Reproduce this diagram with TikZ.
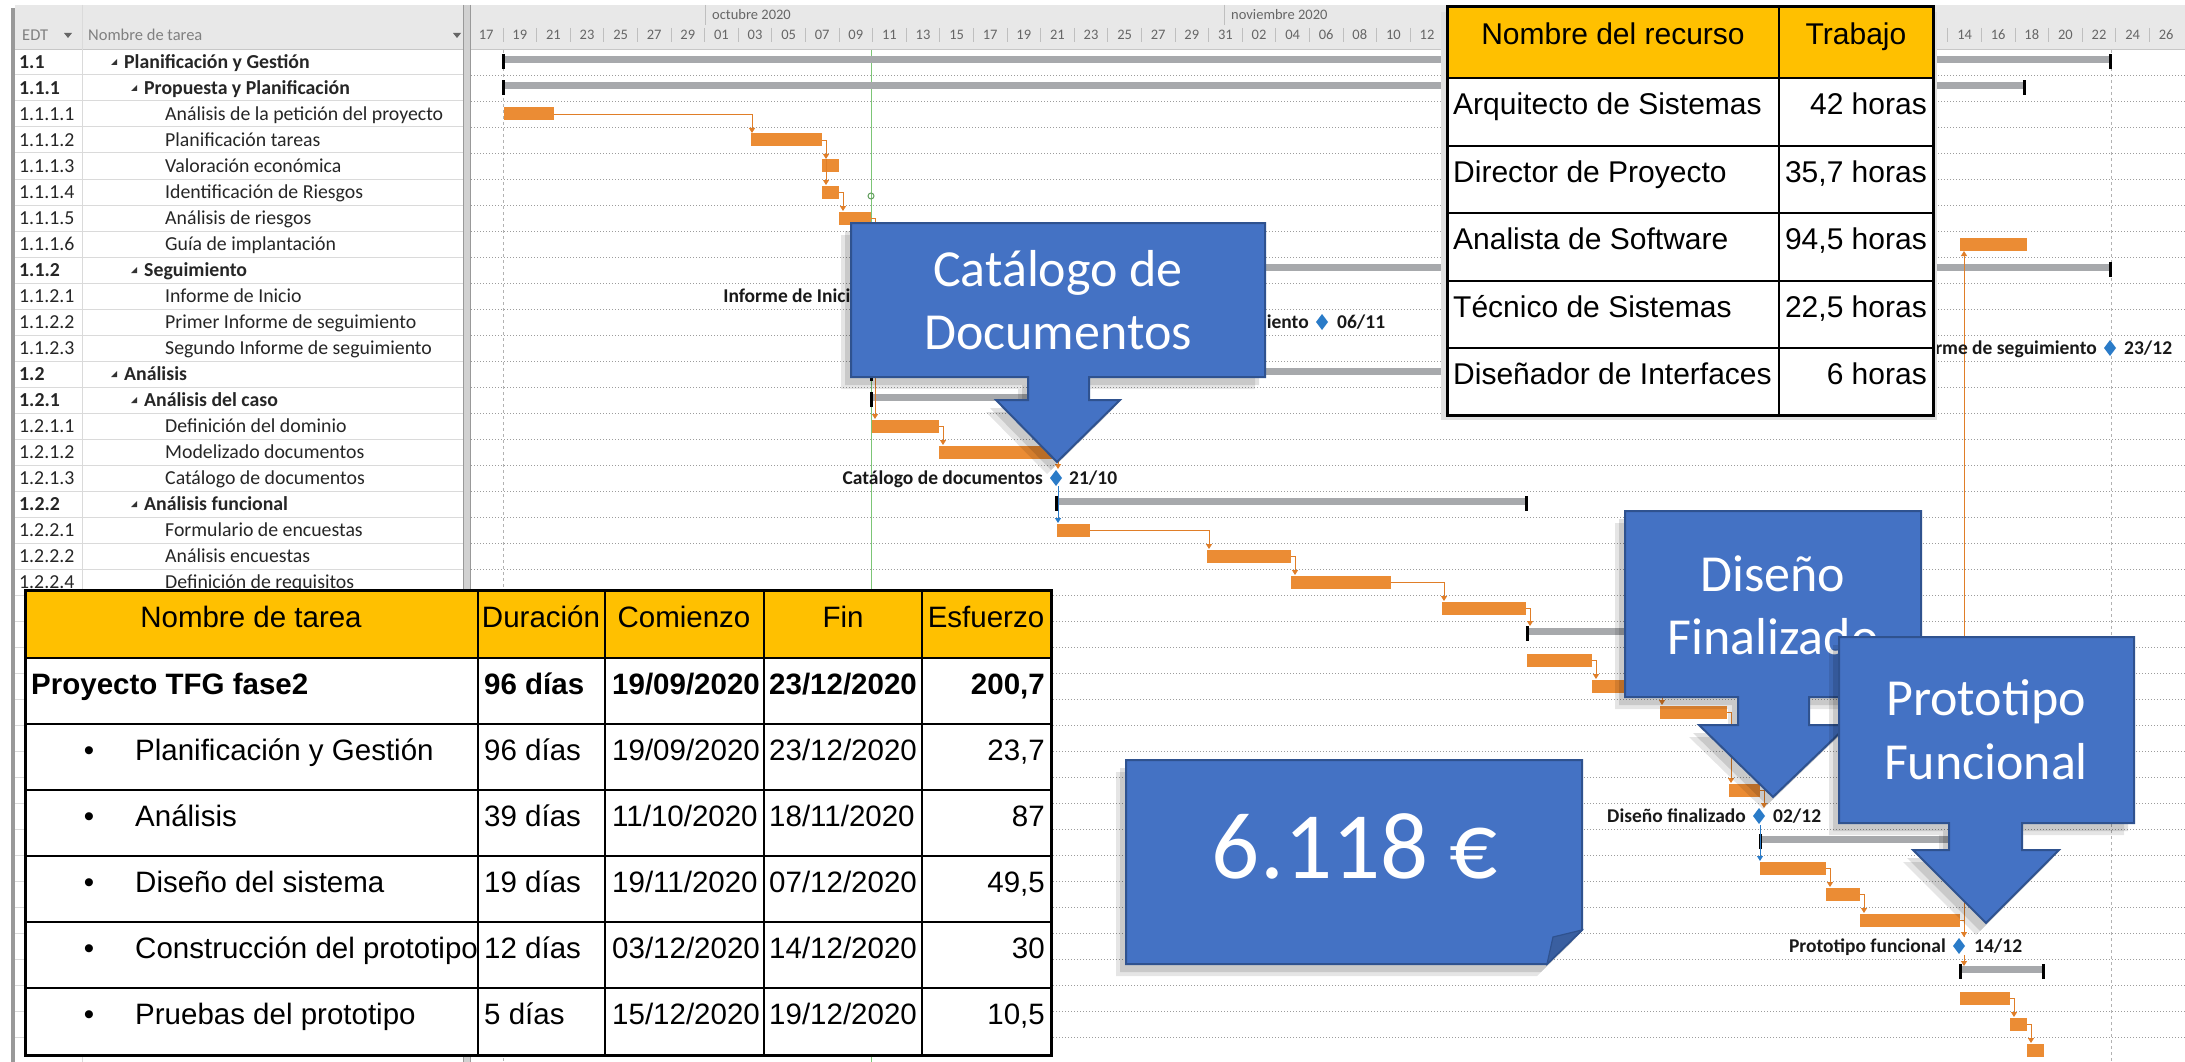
\documentclass[tikz,border=0pt]{standalone}
\usepackage{fontspec}
\setmainfont{Carlito}
\newfontfamily\arifam{Liberation Sans}
\usetikzlibrary{arrows.meta}
\definecolor{bar}{HTML}{EB8C34}
\definecolor{lnk}{HTML}{E07E28}
\definecolor{sumg}{HTML}{A7A9AC}
\definecolor{hdrg}{HTML}{E8E8E8}
\definecolor{gridl}{HTML}{DADADA}
\definecolor{dotc}{HTML}{9C9C9C}
\definecolor{msb}{HTML}{2A7BC8}
\definecolor{gold}{HTML}{FFC000}
\definecolor{cblue}{HTML}{4472C4}
\definecolor{cedge}{HTML}{2F528F}
\definecolor{fold}{HTML}{3A5FA0}
\definecolor{greenl}{HTML}{7CC576}
\begin{document}
\begin{tikzpicture}[x=1pt,y=-1pt,
  gtxt/.style={inner sep=0pt,font=\fontsize{19.8}{23}\selectfont,text=black!85,text height=12.75pt,text depth=0pt},
  tb/.style={font=\fontsize{19.8}{23}\selectfont\bfseries},
  tn/.style={},
  hdr/.style={inner sep=0pt,font=\fontsize{16.5}{19}\selectfont,text=black!50,text height=10.6pt,text depth=0pt},
  dlab/.style={inner sep=0pt,font=\fontsize{14.5}{17}\selectfont,text=black!60,text height=9.3pt,text depth=0pt},
  mlab/.style={inner sep=0pt,font=\fontsize{19.5}{22}\selectfont\bfseries,text=black!90,text height=12.6pt,text depth=0pt},
  ttxt/.style={inner sep=0pt,font=\arifam\fontsize{29.5}{34}\selectfont,text height=21.1pt,text depth=0pt},
  ttb/.style={font=\arifam\fontsize{29.5}{34}\selectfont\bfseries},
  rtxt/.style={inner sep=0pt,font=\arifam\fontsize{30}{34}\selectfont,text height=21.5pt,text depth=0pt},
  ctext/.style={inner sep=0pt,font=\fontsize{52}{60}\selectfont,text=white,text height=33.5pt,text depth=0pt},
  ntext/.style={inner sep=0pt,font=\fontsize{95}{110}\selectfont,text=white,text height=60pt,text depth=0pt},
  lk/.style={draw=lnk,line width=0.9pt,-{Triangle[length=5pt,width=6pt]}},
  bk/.style={draw=msb,line width=0.9pt,-{Triangle[length=5pt,width=6pt]}},
  tline/.style={line width=2.5pt,black},
  blueshape/.style={fill=cblue,draw=cedge,line width=2pt,line join=miter},
]
\useasboundingbox (0,0) rectangle (2185,1062);
\fill[white] (0,0) rectangle (2185,1062);
% ---------- headers ----------
\fill[hdrg] (15,5) rectangle (2185,50);
\draw[black!22,line width=1pt] (15,50) -- (2185,50);
\fill[black!40] (11,8) rectangle (15,1062);
\draw[gridl,line width=1pt] (82,5) -- (82,1062);
\node[hdr,anchor=west] (hedt) at (22,35) {EDT};
\node[hdr,anchor=west] (hname) at (88,35) {Nombre de tarea};
\fill[black!60] (64,33) -- (72,33) -- (68,38) -- cycle;
\fill[black!60] (453,33) -- (461,33) -- (457,38) -- cycle;
% left table grid
\foreach \k in {0,...,38} \draw[gridl,line width=1pt] (15,75+26*\k) -- (463,75+26*\k);
% splitter
\fill[black!18] (463,5) rectangle (470,1062);
\draw[black!40,line width=0.8pt] (463,5) -- (463,1062) (470,5) -- (470,1062);
% month labels
\draw[black!25,line width=0.8pt] (705,5) -- (705,25) (1224,5) -- (1224,25);
\node[dlab,anchor=west] (moct) at (712,15) {octubre 2020};
\node[dlab,anchor=west] (mnov) at (1231,15) {noviembre 2020};
% day ticks & labels
\foreach \o in {0,2,...,98} \draw[black!25,line width=0.8pt] (503+16.8*\o,28) -- (503+16.8*\o,42);
\foreach \o/\t in {-2/17,0/19,2/21,4/23,6/25,8/27,10/29,12/01,14/03,16/05,18/07,20/09,22/11,24/13,26/15,28/17,30/19,32/21,34/23,36/25,38/27,40/29,42/31,44/02,46/04,48/06,50/08,52/10,54/12,86/14,88/16,90/18,92/20,94/22,96/24,98/26}
  \node[dlab] (d\o) at (503+16.8*\o+16.8,35) {\t};
% ---------- task rows ----------
\foreach \k/\e/\nm/\lx/\fw in {
 0/1.1/Planificación y Gestión/124/tb,
 1/1.1.1/Propuesta y Planificación/144/tb,
 2/1.1.1.1/Análisis de la petición del proyecto/165/tn,
 3/1.1.1.2/Planificación tareas/165/tn,
 4/1.1.1.3/Valoración económica/165/tn,
 5/1.1.1.4/Identificación de Riesgos/165/tn,
 6/1.1.1.5/Análisis de riesgos/165/tn,
 7/1.1.1.6/Guía de implantación/165/tn,
 8/1.1.2/Seguimiento/144/tb,
 9/1.1.2.1/Informe de Inicio/165/tn,
 10/1.1.2.2/Primer Informe de seguimiento/165/tn,
 11/1.1.2.3/Segundo Informe de seguimiento/165/tn,
 12/1.2/Análisis/124/tb,
 13/1.2.1/Análisis del caso/144/tb,
 14/1.2.1.1/Definición del dominio/165/tn,
 15/1.2.1.2/Modelizado documentos/165/tn,
 16/1.2.1.3/Catálogo de documentos/165/tn,
 17/1.2.2/Análisis funcional/144/tb,
 18/1.2.2.1/Formulario de encuestas/165/tn,
 19/1.2.2.2/Análisis encuestas/165/tn,
 20/1.2.2.4/Definición de requisitos/165/tn}{
  \node[gtxt,\fw,anchor=west] (e\k) at (19,62+26*\k) {\e};
  \node[gtxt,\fw,anchor=west] (n\k) at (\lx,62+26*\k) {\nm};
}
\foreach \k/\tx in {0/111,1/131,8/131,12/111,13/131,17/131}
  \fill[black!80] (\tx,62+26*\k+3) -- ++(6,0) -- ++(0,-6) -- cycle;
% ---------- chart grid ----------
\foreach \k in {0,...,38} \draw[dotc,line width=0.9pt,dash pattern=on 1pt off 2pt] (471,75+26*\k) -- (2185,75+26*\k);
\draw[black!30,line width=0.8pt,dash pattern=on 3pt off 3pt] (503,50) -- (503,1062) (2111,50) -- (2111,1062);
\draw[greenl,line width=0.9pt] (871,50) -- (871,1062);
\draw[greenl!80!black,line width=1pt] (871,196) circle (3);
% ---------- summary bars ----------
\foreach \k/\a/\b in {0/503/2111,1/503/2025,8/871/2111,12/871/1528,13/871/1056,17/1056/1527,22/1527/1760,30/1760/1960,35/1960/2044}{
  \pgfmathsetmacro\yc{62+26*\k}
  \fill[sumg] (\a,\yc-6) rectangle (\b,\yc+1);
  \fill[black] (\a-1,\yc-8) rectangle (\a+2,\yc+7);
  \fill[black] (\b-2,\yc-8) rectangle (\b+1,\yc+7);
}
% ---------- task bars ----------
\foreach \k/\a/\b in {2/504/554,3/751/822,4/822/839,5/822/839,6/839/871,7/1960/2027,14/872/939,15/939/1053,18/1057/1090,19/1207/1291,20/1291/1391,21/1442/1526,23/1527/1592,24/1592/1656,25/1660/1727,26/1727/1762,28/1729/1760,31/1760/1826,32/1826/1860,33/1860/1960,36/1960/2010,37/2010/2027,38/2027/2044}
  \fill[bar] (\a,62+26*\k-6.5) rectangle (\b,62+26*\k+6.5);
% ---------- links ----------
\draw[lk] (554,114) -| (752,133);
\draw[lk] (822,140) -- (826,140) -- (826,159);
\draw[lk] (826,159) -- (826,185);
\draw[lk] (839,192) -- (843,192) -- (843,211);
\draw[lk] (871,218) -- (875,218) -- (875,419);
\draw[lk] (939,426) -- (943,426) -- (943,445);
\draw[lk] (1053,452) -- (1058,452) -- (1058,469);
\draw[bk] (1058,486) -- (1058,523);
\draw[lk] (1090,530) -| (1209,549);
\draw[lk] (1291,556) -- (1295,556) -- (1295,575);
\draw[lk] (1391,582) -| (1444,601);
\draw[lk] (1526,608) -- (1530,608) -- (1530,626);
\draw[lk] (1592,660) -- (1596,660) -- (1596,679);
\draw[lk] (1656,686) -- (1662,686) -- (1662,705);
\draw[lk] (1727,712) -- (1731,712) -- (1731,731);
\draw[lk] (1731,731) -- (1731,783);
\draw[lk] (1760,790) -- (1764,790) -- (1764,808);
\draw[bk] (1760,825) -- (1760,861);
\draw[lk] (1826,868) -- (1830,868) -- (1830,887);
\draw[lk] (1860,894) -- (1864,894) -- (1864,913);
\draw[lk] (1960,920) -- (1964,920) -- (1964,937);
\draw[lk] (1964,955) -- (1964,966);
\draw[lk] (2010,998) -- (2014,998) -- (2014,1017);
\draw[lk] (2027,1024) -- (2031,1024) -- (2031,1043);
\draw[lk] (1964,937) -- (1964,251);
% ---------- milestones ----------
\fill[msb] (873,288) -- (879,296) -- (873,304) -- (867,296) -- cycle;
\node[mlab,anchor=east] (ms9) at (861,296) {Informe de Inicio};
\foreach \k/\x/\lab in {10/1322/Primer Informe de seguimiento,11/2110/Segundo Informe de seguimiento,16/1056/Catálogo de documentos,29/1759/Diseño finalizado,34/1959/Prototipo funcional}{
  \pgfmathsetmacro\yc{62+26*\k}
  \fill[msb] (\x,\yc-8) -- (\x+6,\yc) -- (\x,\yc+8) -- (\x-6,\yc) -- cycle;
  \node[mlab,anchor=east] (ml\k) at (\x-13,\yc) {\lab};
}
\node[mlab,anchor=west] (md10) at (1337,322) {06/11};
\node[mlab,anchor=west] (md11) at (2124,348) {23/12};
\node[mlab,anchor=west] (md16) at (1069,478) {21/10};
\node[mlab,anchor=west] (md29) at (1773,816) {02/12};
\node[mlab,anchor=west] (md34) at (1974,946) {14/12};
% ---------- resource table ----------
\fill[black!12] (1441,12) rectangle (1937,420);
\fill[white] (1447,7) rectangle (1933,415);
\fill[gold] (1447,7) rectangle (1933,78);
\foreach \yy in {78,146,213,281,348} \draw[tline] (1447,\yy) -- (1933,\yy);
\draw[tline] (1779,7) -- (1779,415);
\draw[line width=3pt] (1447,7) rectangle (1933,415);
\node[rtxt] (rh1) at (1613,34) {Nombre del recurso};
\node[rtxt] (rh2) at (1856,34) {Trabajo};
\node[rtxt,anchor=west] (r1) at (1453,104) {Arquitecto de Sistemas};
\node[rtxt,anchor=west] (r2) at (1453,172) {Director de Proyecto};
\node[rtxt,anchor=west] (r3) at (1453,239) {Analista de Software};
\node[rtxt,anchor=west] (r4) at (1453,307) {Técnico de Sistemas};
\node[rtxt,anchor=west] (r5) at (1453,374) {Diseñador de Interfaces};
\node[rtxt,anchor=east] (w1) at (1927,104) {42 horas};
\node[rtxt,anchor=east] (w2) at (1927,172) {35,7 horas};
\node[rtxt,anchor=east] (w3) at (1927,239) {94,5 horas};
\node[rtxt,anchor=east] (w4) at (1927,307) {22,5 horas};
\node[rtxt,anchor=east] (w5) at (1927,374) {6 horas};
% ---------- task table ----------
\fill[white] (25,590) rectangle (1051,1055);
\fill[gold] (25,590) rectangle (1051,658);
\foreach \yy in {658,724,790,856,922,988} \draw[tline] (25,\yy) -- (1051,\yy);
\foreach \xx in {478,605,764,922} \draw[tline] (\xx,590) -- (\xx,1055);
\draw[line width=3pt] (25,590) rectangle (1051,1055);
\node[ttxt] (th1) at (251,617) {Nombre de tarea};
\node[ttxt] (th2) at (541,617) {Duración};
\node[ttxt] (th3) at (684,617) {Comienzo};
\node[ttxt] (th4) at (843,617) {Fin};
\node[ttxt] (th5) at (986,617) {Esfuerzo};
\node[ttxt,ttb,anchor=west] (a1) at (31,684) {Proyecto TFG fase2};
\node[ttxt,ttb,anchor=west] (a2) at (484,684) {96 días};
\node[ttxt,ttb,anchor=west] (a3) at (612,684) {19/09/2020};
\node[ttxt,ttb,anchor=west] (a4) at (769,684) {23/12/2020};
\node[ttxt,ttb,anchor=east] (a5) at (1045,684) {200,7};
\node[ttxt] (b1) at (89,750) {•};
\node[ttxt,anchor=west] (b2) at (135,750) {Planificación y Gestión};
\node[ttxt,anchor=west] (b3) at (484,750) {96 días};
\node[ttxt,anchor=west] (b4) at (612,750) {19/09/2020};
\node[ttxt,anchor=west] (b5) at (769,750) {23/12/2020};
\node[ttxt,anchor=east] (b6) at (1045,750) {23,7};
\node[ttxt] (c1) at (89,816) {•};
\node[ttxt,anchor=west] (c2) at (135,816) {Análisis};
\node[ttxt,anchor=west] (c3) at (484,816) {39 días};
\node[ttxt,anchor=west] (c4) at (612,816) {11/10/2020};
\node[ttxt,anchor=west] (c5) at (769,816) {18/11/2020};
\node[ttxt,anchor=east] (c6) at (1045,816) {87};
\node[ttxt] (f1) at (89,882) {•};
\node[ttxt,anchor=west] (f2) at (135,882) {Diseño del sistema};
\node[ttxt,anchor=west] (f3) at (484,882) {19 días};
\node[ttxt,anchor=west] (f4) at (612,882) {19/11/2020};
\node[ttxt,anchor=west] (f5) at (769,882) {07/12/2020};
\node[ttxt,anchor=east] (f6) at (1045,882) {49,5};
\node[ttxt] (g1) at (89,948) {•};
\node[ttxt,anchor=west] (g2) at (135,948) {Construcción del prototipo};
\node[ttxt,anchor=west] (g3) at (484,948) {12 días};
\node[ttxt,anchor=west] (g4) at (612,948) {03/12/2020};
\node[ttxt,anchor=west] (g5) at (769,948) {14/12/2020};
\node[ttxt,anchor=east] (g6) at (1045,948) {30};
\node[ttxt] (h1) at (89,1014) {•};
\node[ttxt,anchor=west] (h2) at (135,1014) {Pruebas del prototipo};
\node[ttxt,anchor=west] (h3) at (484,1014) {5 días};
\node[ttxt,anchor=west] (h4) at (612,1014) {15/12/2020};
\node[ttxt,anchor=west] (h5) at (769,1014) {19/12/2020};
\node[ttxt,anchor=east] (h6) at (1045,1014) {10,5};
% ---------- sticky note ----------
\def\notepath{(1126,760) -- (1582,760) -- (1582,930) -- (1547,964) -- (1126,964) -- cycle}
\fill[black,opacity=0.10,shift={(-10,12)}] \notepath;
\fill[black,opacity=0.12,shift={(-6,8)}] \notepath;
\filldraw[blueshape] \notepath;
\filldraw[fill=fold,draw=cedge,line width=1.2pt] (1582,930) -- (1553,937) -- (1547,964) -- cycle;
\node[ntext] (cost) at (1355,848) {6.118 €};
% ---------- callouts ----------
\def\catpath{(851,223) -- (1265,223) -- (1265,377) -- (1089,377) -- (1089,400) -- (1120,400) -- (1057,462) -- (996,400) -- (1028,400) -- (1028,377) -- (851,377) -- cycle}
\def\dispath{(1625,511) -- (1921,511) -- (1921,697) -- (1809,697) -- (1809,725) -- (1848,725) -- (1773,797) -- (1699,725) -- (1738,725) -- (1738,697) -- (1625,697) -- cycle}
\def\propath{(1839,637) -- (2134,637) -- (2134,823) -- (2022,823) -- (2022,850) -- (2059,850) -- (1986,923) -- (1913,850) -- (1949,850) -- (1949,823) -- (1839,823) -- cycle}
\fill[black,opacity=0.10,shift={(-10,12)}] \catpath;
\fill[black,opacity=0.12,shift={(-6,8)}] \catpath;
\filldraw[blueshape] \catpath;
\node[ctext] (cat1) at (1058,270) {Catálogo de};
\node[ctext] (cat2) at (1058,333) {Documentos};
\fill[black,opacity=0.10,shift={(-10,12)}] \dispath;
\fill[black,opacity=0.12,shift={(-6,8)}] \dispath;
\filldraw[blueshape] \dispath;
\node[ctext] (dis1) at (1773,575) {Diseño};
\node[ctext] (dis2) at (1773,638) {Finalizado};
\fill[black,opacity=0.10,shift={(-10,12)}] \propath;
\fill[black,opacity=0.12,shift={(-6,8)}] \propath;
\filldraw[blueshape] \propath;
\node[ctext] (pro1) at (1986,699) {Prototipo};
\node[ctext] (pro2) at (1986,763) {Funcional};
\end{tikzpicture}
\end{document}
